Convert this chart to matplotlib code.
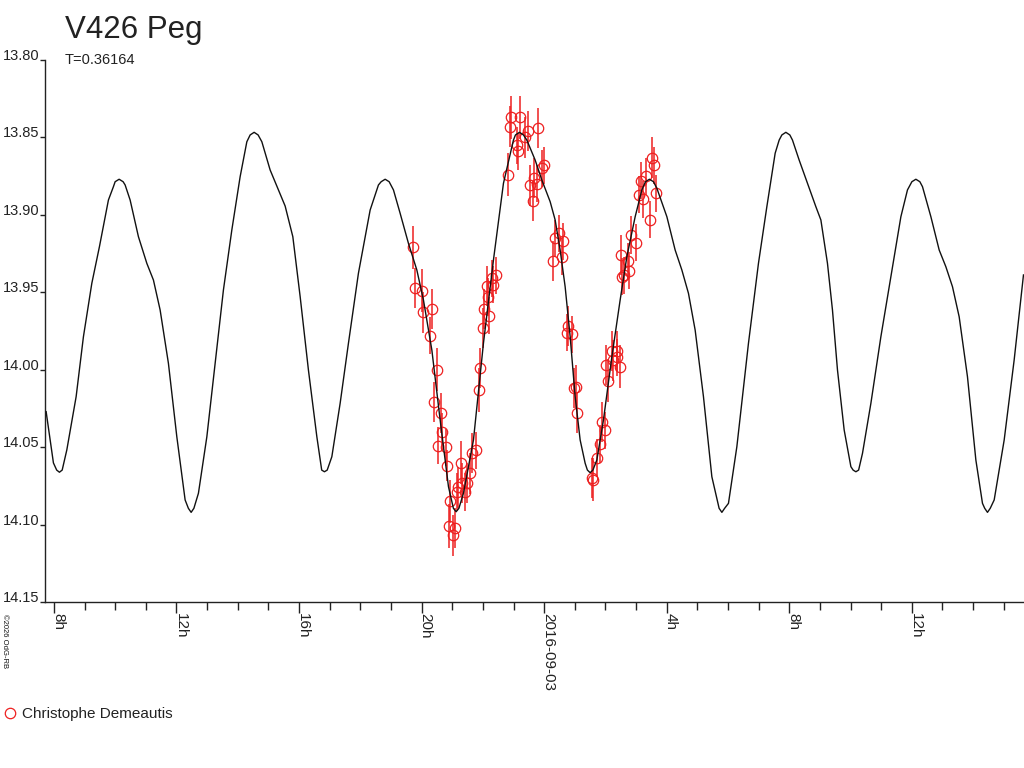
import matplotlib
matplotlib.use('Agg')
import matplotlib.pyplot as plt
from matplotlib.lines import Line2D
from matplotlib.ticker import MultipleLocator

plt.rcParams['font.family'] = ['Liberation Sans', 'DejaVu Sans']

# ---------------- model light curve (hours from 2016-09-03 00:00, magnitude) ----------------
curve_h = [-16.253, -16.015, -15.909, -15.819, -15.729, -15.578, -15.274, -15.036, -14.762, -14.514,
           -14.220, -14.057, -14.001, -13.871, -13.741, -13.675, -13.512, -13.241, -12.967, -12.751,
           -12.533, -12.262, -11.988, -11.717, -11.611, -11.521, -11.431, -11.283, -11.008, -10.738,
           -10.467, -10.193, -9.922, -9.703, -9.595, -9.465, -9.335, -9.213, -8.943, -8.672,
           -8.453, -8.202, -7.963, -7.693, -7.418, -7.260, -7.170, -7.080, -6.929, -6.658,
           -6.387, -6.061, -5.679, -5.408, -5.319, -5.189, -5.059, -4.918, -4.700, -4.429,
           -4.155, -3.939, -3.665, -3.394, -3.123, -2.962, -2.872, -2.782, -2.634, -2.307,
           -1.981, -1.655, -1.328, -1.002, -0.936, -0.806, -0.676, -0.565, -0.294, -0.075,
           0.196, 0.359, 0.522, 0.685, 0.849, 1.012, 1.175, 1.338, 1.411, 1.501,
           1.591, 1.720, 1.935, 2.210, 2.480, 2.699, 2.970, 3.189, 3.307, 3.437,
           3.567, 3.678, 4.005, 4.275, 4.494, 4.710, 4.928, 5.199, 5.473, 5.710,
           5.800, 5.890, 6.015, 6.289, 6.668, 6.994, 7.268, 7.539, 7.670, 7.758,
           7.888, 8.018, 8.104, 8.322, 8.593, 8.867, 9.031, 9.246, 9.409, 9.573,
           9.791, 10.010, 10.083, 10.173, 10.263, 10.389, 10.663, 10.989, 11.315, 11.642,
           11.857, 12.001, 12.131, 12.261, 12.347, 12.621, 12.892, 13.110, 13.326, 13.544,
           13.815, 14.089, 14.305, 14.378, 14.468, 14.558, 14.687, 15.013, 15.339, 15.643]
curve_mag = [14.0271, 14.0602, 14.0648, 14.0662, 14.0648, 14.0518, 14.0174, 13.9787, 13.9442, 13.9206,
             13.8904, 13.8818, 13.8786, 13.8770, 13.8786, 13.8807, 13.8904, 13.9141, 13.9313, 13.9421,
             13.9614, 13.9959, 14.0433, 14.0841, 14.0895, 14.0921, 14.0895, 14.0798, 14.0433, 13.9959,
             13.9485, 13.9098, 13.8754, 13.8528, 13.8484, 13.8467, 13.8484, 13.8528, 13.8710, 13.8839,
             13.8943, 13.9141, 13.9528, 14.0002, 14.0433, 14.0648, 14.0659, 14.0648, 14.0562, 14.0217,
             13.9829, 13.9377, 13.8969, 13.8807, 13.8786, 13.8770, 13.8786, 13.8839, 13.8990, 13.9184,
             13.9356, 13.9550, 13.9873, 14.0325, 14.0755, 14.0895, 14.0917, 14.0895, 14.0798, 14.0454,
             13.9829, 13.9292, 13.8796, 13.8517, 13.8484, 13.8467, 13.8484, 13.8517, 13.8646, 13.8775,
             13.8915, 13.9033, 13.9227, 13.9464, 13.9787, 14.0174, 14.0454, 14.0604, 14.0648, 14.0665,
             14.0648, 14.0583, 14.0325, 13.9916, 13.9550, 13.9270, 13.9012, 13.8839, 13.8786, 13.8770,
             13.8786, 13.8828, 13.9012, 13.9227, 13.9356, 13.9507, 13.9744, 14.0174, 14.0691, 14.0895,
             14.0921, 14.0895, 14.0863, 14.0497, 13.9829, 13.9313, 13.8947, 13.8602, 13.8517, 13.8484,
             13.8467, 13.8484, 13.8517, 13.8646, 13.8796, 13.8947, 13.9033, 13.9313, 13.9614, 14.0002,
             14.0389, 14.0626, 14.0648, 14.0659, 14.0648, 14.0540, 14.0217, 13.9787, 13.9399, 13.9012,
             13.8839, 13.8786, 13.8770, 13.8786, 13.8818, 13.9012, 13.9227, 13.9335, 13.9464, 13.9658,
             14.0045, 14.0583, 14.0863, 14.0895, 14.0921, 14.0895, 14.0841, 14.0454, 13.9937, 13.9388]

# ---------------- observations (Christophe Demeautis) ----------------
obs_h = [-4.27, -4.23, -3.99, -3.94, -3.67, -3.74, -3.50, -3.61, -3.36, -3.32,
         -3.47, -3.20, -3.18, -3.07, -3.12, -2.91, -2.96, -2.72, -2.80, -2.69,
         -2.52, -2.42, -2.58, -2.85, -2.36, -2.22, -2.14, -2.09, -2.01, -1.96,
         -1.79, -1.87, -1.66, -1.57, -1.71, -1.84, -1.19, -1.13, -1.09, -0.80,
         -0.89, -0.86, -0.53, -0.62, -0.19, 0.01, -0.08, -0.32, -0.46, -0.24,
         -0.38, 0.47, 0.63, 0.36, 0.30, 0.58, 0.79, 0.74, 0.90, 1.04,
         0.96, 1.07, 1.56, 1.61, 1.74, 1.83, 1.88, 1.99, 2.10, 2.02,
         2.21, 2.39, 2.46, 2.26, 2.37, 2.50, 2.78, 2.59, 2.75, 2.84,
         3.00, 3.52, 3.59, 3.33, 3.17, 3.11, 3.24, 3.66, 3.46, 2.55]
obs_mag = [13.921, 13.947, 13.949, 13.963, 13.961, 13.978, 14.000, 14.021, 14.028, 14.040,
           14.049, 14.050, 14.062, 14.085, 14.101, 14.102, 14.107, 14.060, 14.076, 14.073,
           14.073, 14.067, 14.079, 14.079, 14.054, 14.052, 14.013, 13.999, 13.973, 13.961,
           13.965, 13.946, 13.945, 13.939, 13.941, 13.953, 13.874, 13.843, 13.837, 13.837,
           13.855, 13.859, 13.846, 13.850, 13.844, 13.868, 13.870, 13.876, 13.881, 13.880,
           13.891, 13.912, 13.917, 13.915, 13.930, 13.927, 13.972, 13.976, 13.977, 14.011,
           14.012, 14.028, 14.070, 14.071, 14.057, 14.048, 14.034, 14.039, 14.007, 13.997,
           13.988, 13.988, 13.998, 13.994, 13.992, 13.926, 13.936, 13.939, 13.930, 13.913,
           13.918, 13.863, 13.868, 13.875, 13.878, 13.887, 13.890, 13.886, 13.903, 13.940]
obs_err = [0.014, 0.013, 0.014, 0.013, 0.013, 0.012, 0.014, 0.013, 0.013, 0.012,
           0.012, 0.012, 0.010, 0.014, 0.014, 0.013, 0.013, 0.014, 0.013, 0.013,
           0.013, 0.013, 0.012, 0.012, 0.013, 0.012, 0.014, 0.013, 0.013, 0.013,
           0.012, 0.013, 0.012, 0.012, 0.012, 0.012, 0.014, 0.013, 0.014, 0.014,
           0.012, 0.012, 0.013, 0.013, 0.013, 0.012, 0.012, 0.013, 0.013, 0.012,
           0.013, 0.012, 0.012, 0.012, 0.013, 0.012, 0.013, 0.012, 0.012, 0.014,
           0.013, 0.013, 0.013, 0.014, 0.012, 0.012, 0.013, 0.012, 0.014, 0.013,
           0.013, 0.013, 0.014, 0.013, 0.012, 0.013, 0.012, 0.012, 0.012, 0.012,
           0.012, 0.013, 0.012, 0.012, 0.012, 0.012, 0.012, 0.012, 0.012, 0.012]

tick_hours = [-16, -12, -8, -4, 0, 4, 8, 12]
tick_labels = ['8h', '12h', '16h', '20h', '2016-09-03', '4h', '8h', '12h']
mag_ticks = [13.80, 13.85, 13.90, 13.95, 14.00, 14.05, 14.10, 14.15]

RED = '#ee2020'
TXT = '#222222'

fig = plt.figure(figsize=(10.24, 7.68), dpi=100)
ax = fig.add_axes([45 / 1024, 166 / 768, 979 / 1024, 542 / 768])

ax.errorbar(obs_h, obs_mag, yerr=obs_err, fmt='o', mfc='none', mec=RED, ecolor=RED,
            elinewidth=1.1, ms=7.5, mew=0.9, capsize=0, zorder=2)
ax.plot(curve_h, curve_mag, color='#111111', lw=1.0, zorder=3)

ax.set_xlim(-16.29, 15.66)
ax.set_ylim(14.15, 13.80)

# ---------------- axes style ----------------
for s in ['top', 'right']:
    ax.spines[s].set_visible(False)
for s in ['left', 'bottom']:
    ax.spines[s].set_linewidth(1.0)
    ax.spines[s].set_color('#222222')

# tick lengths are in points (1 px = 0.72 pt at 100 dpi)
ax.set_yticks(mag_ticks)
ax.set_yticklabels(['%.2f' % m for m in mag_ticks])
ax.tick_params(axis='y', direction='out', length=3.6, width=1, pad=0.5,
               labelsize=10.5, labelcolor=TXT, color='#222222')
for lab in ax.get_yticklabels():
    lab.set_va('baseline')

ax.set_xticks(tick_hours)
ax.set_xticklabels(tick_labels)
ax.xaxis.set_minor_locator(MultipleLocator(1))
ax.tick_params(axis='x', which='major', direction='out', length=7.9, width=1, pad=0.2,
               labelsize=11, labelcolor=TXT, color='#222222')
ax.tick_params(axis='x', which='minor', direction='out', length=5.8, width=1, color='#222222')
for lab in ax.get_xticklabels():
    lab.set_rotation(270)
    lab.set_rotation_mode('anchor')
    lab.set_ha('left')
    lab.set_va('baseline')

# ---------------- texts ----------------
fig.text(65 / 1024, 1 - 38 / 768, 'V426 Peg', fontsize=22.5, color=TXT, ha='left', va='baseline')
fig.text(65 / 1024, 1 - 64 / 768, 'T=0.36164', fontsize=10.5, color=TXT, ha='left', va='baseline')
fig.text(1 / 1024, 1 - 614 / 768, '\u00a92026 OdG-RB', fontsize=5.5, color='#111111',
         rotation=270, ha='left', va='bottom', rotation_mode='anchor')

# legend
fig.add_artist(Line2D([10 / 1024], [1 - 713 / 768], marker='o', ms=7.5, mfc='none',
                      mec=RED, mew=0.9, transform=fig.transFigure))
fig.text(22 / 1024, 1 - 718 / 768, 'Christophe Demeautis', fontsize=11, color=TXT,
         ha='left', va='baseline')

plt.savefig('out.png', dpi=100)
